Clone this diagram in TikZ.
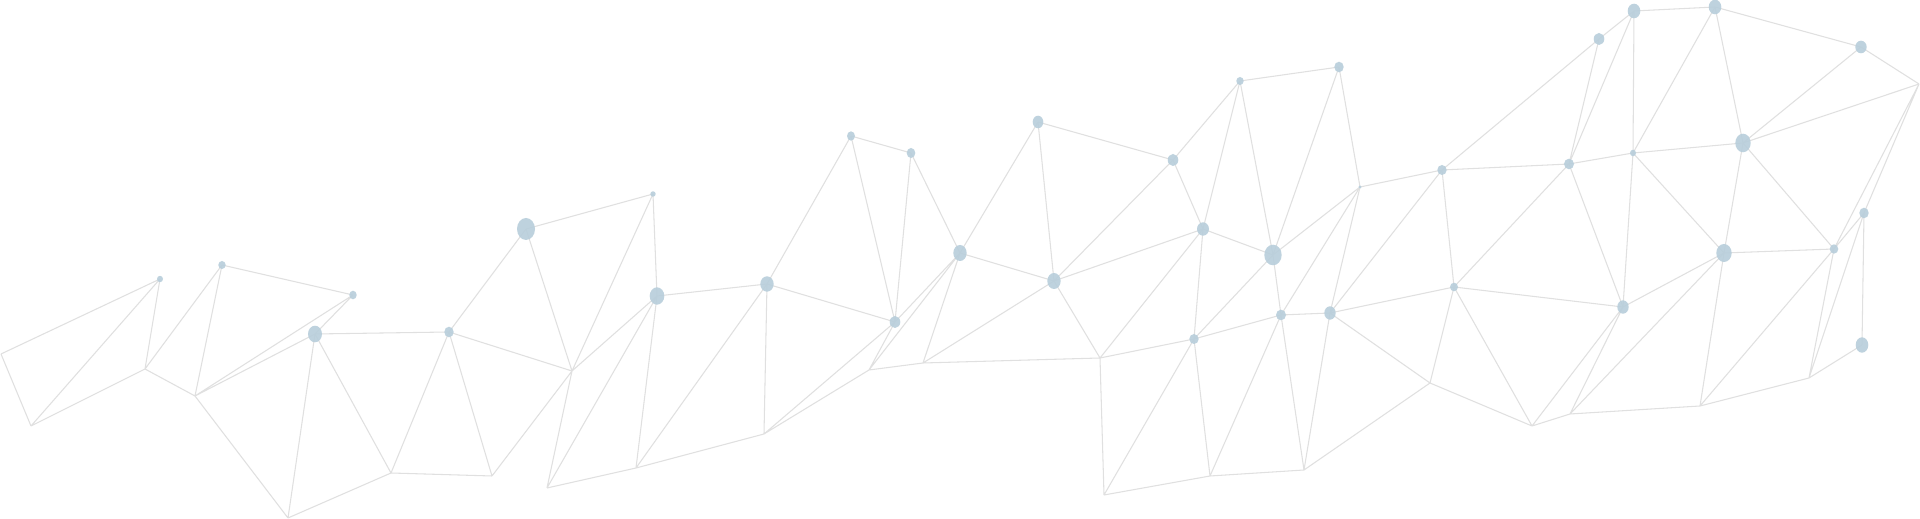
\documentclass[tikz,border=0pt]{standalone}
\usepackage{tikz}
\usepackage{xcolor}
\definecolor{dotblue}{HTML}{B8CEDB}
\definecolor{meshgray}{HTML}{E0E0E0}

\begin{document}
\begin{tikzpicture}[
  x=0.01cm, y=-0.01cm,
  dot/.style={fill=dotblue, fill opacity=0.9},
  mesh/.style={draw=meshgray, line width=0.3pt}
]
  \fill[white] (0,0) rectangle (1920,519);
  \useasboundingbox (0,0) rectangle (1920,519);

  % Junctions (no dot)
  \coordinate (ja) at (1,354);    \coordinate (jb) at (31,426);
  \coordinate (j1) at (145,369);  \coordinate (j2) at (195,396);
  \coordinate (j3) at (288,518);  \coordinate (j4) at (391,473);
  \coordinate (j5) at (492,476);  \coordinate (j6) at (572,371);
  \coordinate (j7) at (547,488);  \coordinate (j8) at (636,468);
  \coordinate (j9) at (764,434);  \coordinate (j10) at (869,370);
  \coordinate (j11) at (923,363); \coordinate (j12) at (1100,358);
  \coordinate (j13) at (1104,495);\coordinate (j14) at (1210,476);
  \coordinate (j15) at (1304,470);\coordinate (j16) at (1430,383);
  \coordinate (j17) at (1532,426);\coordinate (j18) at (1570,414);
  \coordinate (j19) at (1919,84); \coordinate (j20) at (1700,406);
  \coordinate (j21) at (1809,378);

  % Dot positions
  \coordinate (d1) at (160,279);  \coordinate (d2) at (222,265);
  \coordinate (d3) at (315,334);  \coordinate (d4) at (353,295);
  \coordinate (d5) at (449,332);  \coordinate (d6) at (526,229);
  \coordinate (d7) at (653,194);  \coordinate (d8) at (657,296);
  \coordinate (d9) at (767,284);  \coordinate (d10) at (851,136);
  \coordinate (d11) at (911,153); \coordinate (d12) at (895,322);
  \coordinate (d13) at (960,253); \coordinate (d14) at (1038,122);
  \coordinate (d15) at (1054,281);\coordinate (d16) at (1173,160);
  \coordinate (d17) at (1203,229);\coordinate (d18) at (1240,81);
  \coordinate (d19) at (1273,255);\coordinate (d20) at (1194,339);
  \coordinate (d21) at (1281,315);\coordinate (d22) at (1339,67);
  \coordinate (d24) at (1360,187);\coordinate (d25) at (1442,170);
  \coordinate (d26) at (1569,164);\coordinate (d27) at (1599,39);
  \coordinate (d28) at (1330,313);\coordinate (d29) at (1454,287);
  \coordinate (d30) at (1623,307);\coordinate (d31) at (1634,11);
  \coordinate (d32) at (1715,7);  \coordinate (d33) at (1861,47);
  \coordinate (d34) at (1633,153);\coordinate (d35) at (1743,143);
  \coordinate (d36) at (1864,213);\coordinate (d37) at (1724,253);
  \coordinate (d38) at (1834,249);\coordinate (d39) at (1862,345);

  % Mesh, left part
  \draw[mesh] (ja) -- (d1) (ja) -- (jb) (jb) -- (d1) (jb) -- (j1)
    (j1) -- (d1) (j1) -- (d2) (j1) -- (j2) (j2) -- (d2) (d2) -- (d4)
    (j2) -- (d4) (j2) -- (d3) (d3) -- (d4) (d3) -- (d5) (d3) -- (j4)
    (d3) -- (j3) (j2) -- (j3) (j3) -- (j4);
  \draw[mesh] (j4) -- (d5) (j4) -- (j5) (d5) -- (j5) (d5) -- (d6)
    (d5) -- (j6) (d6) -- (d7) (d6) -- (j6) (d7) -- (j6) (d7) -- (d8)
    (j6) -- (d8) (j6) -- (j5) (j6) -- (j7) (j7) -- (d8) (j8) -- (d8)
    (j7) -- (j8) (j8) -- (j9) (j8) -- (d9);

  % Mesh, middle part
  \draw[mesh] (d8) -- (d9) (d9) -- (d10) (d9) -- (j9) (d9) -- (d12)
    (d10) -- (d11) (d10) -- (d12) (d11) -- (d12) (d11) -- (d13)
    (d12) -- (j9) (d12) -- (j10) (j9) -- (j10) (j10) -- (d13)
    (d12) -- (d13) (j10) -- (j11) (j11) -- (d13) (j11) -- (d15)
    (j11) -- (j12);
  \draw[mesh] (d13) -- (d14) (d13) -- (d15) (d14) -- (d16) (d14) -- (d15)
    (d15) -- (d16) (d15) -- (d17) (d15) -- (j12) (d16) -- (d17)
    (d16) -- (d18) (d17) -- (d18) (d17) -- (d19) (d17) -- (j12)
    (d17) -- (d20) (d18) -- (d19) (d18) -- (d22) (d19) -- (d20)
    (d19) -- (d21) (d19) -- (d24) (d19) -- (d22) (d21) -- (d24)
    (d21) -- (d28) (d20) -- (d21) (j12) -- (d20) (j12) -- (j13)
    (d20) -- (j13) (d20) -- (j14) (j13) -- (j14) (d21) -- (j14)
    (d21) -- (j15) (j14) -- (j15);

  % Mesh, right part
  \draw[mesh] (d22) -- (d24) (d24) -- (d25) (d24) -- (d28) (d25) -- (d26)
    (d25) -- (d27) (d25) -- (d28) (d25) -- (d29) (d26) -- (d27)
    (d26) -- (d31) (d26) -- (d34) (d26) -- (d30) (d26) -- (d29)
    (d27) -- (d31) (d28) -- (d29) (d28) -- (j15) (d28) -- (j16)
    (j15) -- (j16) (j16) -- (d29) (j16) -- (j17) (d29) -- (j17)
    (d29) -- (d30) (j17) -- (j18) (j17) -- (d30) (j18) -- (d30)
    (j18) -- (d37) (j18) -- (j20);
  \draw[mesh] (d31) -- (d32) (d31) -- (d34) (d32) -- (d34) (d32) -- (d33)
    (d32) -- (d35) (d33) -- (d35) (d33) -- (j19) (j19) -- (d35)
    (j19) -- (d38) (j19) -- (d36) (d34) -- (d35) (d34) -- (d37)
    (d34) -- (d30) (d35) -- (d37) (d35) -- (d38) (d36) -- (d38)
    (d36) -- (d39) (d36) -- (j21) (d37) -- (d38) (d37) -- (d30)
    (d37) -- (j20) (d38) -- (j20) (d38) -- (j21) (d39) -- (j21)
    (j20) -- (j21);

  % Dots
  \fill[dot] (d1) ellipse [x radius=3, y radius=3.2];
  \fill[dot] (d2) ellipse [x radius=3.7, y radius=4];
  \fill[dot] (d3) ellipse [x radius=7, y radius=8.3];
  \fill[dot] (d4) ellipse [x radius=3.7, y radius=4.3];
  \fill[dot] (d5) ellipse [x radius=4.7, y radius=5.3];
  \fill[dot] (d6) ellipse [x radius=9, y radius=11];
  \fill[dot] (d7) ellipse [x radius=2.7, y radius=2.7];
  \fill[dot] (d8) ellipse [x radius=7.3, y radius=8.7];
  \fill[dot] (d9) ellipse [x radius=6.7, y radius=7.7];
  \fill[dot] (d10) ellipse [x radius=4, y radius=4.7];
  \fill[dot] (d11) ellipse [x radius=4.3, y radius=5];
  \fill[dot] (d12) ellipse [x radius=5.3, y radius=6];
  \fill[dot] (d13) ellipse [x radius=6.7, y radius=8];
  \fill[dot] (d14) ellipse [x radius=5.3, y radius=6.3];
  \fill[dot] (d15) ellipse [x radius=6.7, y radius=8];
  \fill[dot] (d16) ellipse [x radius=5.3, y radius=6];
  \fill[dot] (d17) ellipse [x radius=6, y radius=6.7];
  \fill[dot] (d18) ellipse [x radius=3.7, y radius=4];
  \fill[dot] (d19) ellipse [x radius=8.7, y radius=10.3];
  \fill[dot] (d20) ellipse [x radius=4.7, y radius=5];
  \fill[dot] (d21) ellipse [x radius=5, y radius=5.3];
  \fill[dot] (d22) ellipse [x radius=4.7, y radius=5.3];
  \fill[dot] (d24) ellipse [x radius=1.7, y radius=1.7];
  \fill[dot] (d25) ellipse [x radius=4.7, y radius=5];
  \fill[dot] (d26) ellipse [x radius=5, y radius=5.3];
  \fill[dot] (d27) ellipse [x radius=5.3, y radius=6];
  \fill[dot] (d28) ellipse [x radius=5.7, y radius=6.7];
  \fill[dot] (d29) ellipse [x radius=4, y radius=4.3];
  \fill[dot] (d30) ellipse [x radius=5.7, y radius=6.7];
  \fill[dot] (d31) ellipse [x radius=6.3, y radius=7.3];
  \fill[dot] (d32) ellipse [x radius=6.3, y radius=7.3];
  \fill[dot] (d33) ellipse [x radius=5.7, y radius=6.3];
  \fill[dot] (d34) ellipse [x radius=3, y radius=3.3];
  \fill[dot] (d35) ellipse [x radius=7.7, y radius=9.3];
  \fill[dot] (d36) ellipse [x radius=4.7, y radius=5.3];
  \fill[dot] (d37) ellipse [x radius=7.7, y radius=9];
  \fill[dot] (d38) ellipse [x radius=4.3, y radius=4.7];
  \fill[dot] (d39) ellipse [x radius=6.3, y radius=7.7];
\end{tikzpicture}
\end{document}
